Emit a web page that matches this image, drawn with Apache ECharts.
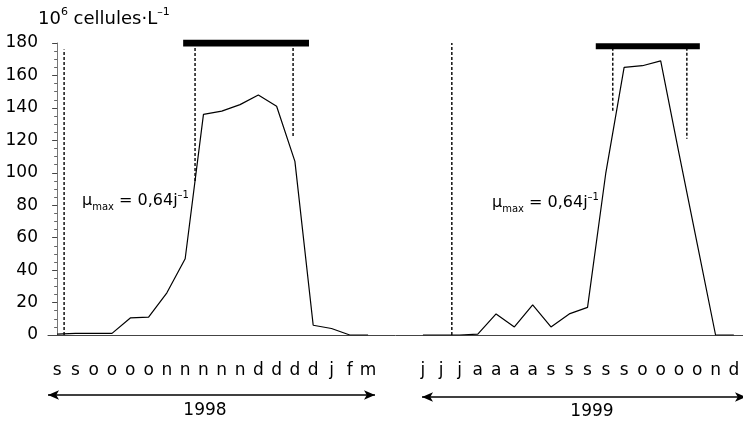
<!DOCTYPE html>
<html>
<head>
<meta charset="utf-8">
<script src="https://cdn.jsdelivr.net/npm/echarts@6/dist/echarts.min.js"></script>
<style>
  html, body { margin: 0; background: #fff; }
  #box { width: 743px; height: 424px; }
</style>
</head>
<body>
<div id="box"></div>
<script>
// sampling months (one letter per sample), 1998 campaign then 1999 campaign
const months1998 = ['s', 's', 'o', 'o', 'o', 'o', 'n', 'n', 'n', 'n', 'n', 'd', 'd', 'd', 'd', 'j', 'f', 'm'];
const months1999 = ['j', 'j', 'j', 'a', 'a', 'a', 'a', 's', 's', 's', 's', 's', 'o', 'o', 'o', 'o', 'n', 'd'];
const gapSlots = ['', ''];

// 10^6 cells per litre
const cells1998 = [0.5, 1, 1, 1, 10.5, 11, 26, 47, 136, 138, 142, 148, 141, 107, 6, 4, 0, 0];
const cells1999 = [0, 0, 0, 0.5, 13, 5, 18.5, 5, 13, 17, 100, 165, 166, 169, 112, 56, 0, 0];

const yMin = 0, yMax = 180, yStep = 20;

// annotation guides, in sample-index units on the shared axis
const growthStart = [[0.38, 0], [0.38, 176]];          // dotted line, 1998
const growthStart2 = [[21.58, 0], [21.58, 180]];       // dotted line, 1999
const bloomGuides1998 = [[[7.54, 180], [7.54, 94]], [[12.9, 180], [12.9, 122]]];
const bloomGuides1999 = [[[30.38, 177], [30.38, 137]], [[34.43, 177], [34.43, 121]]];
const bloomBar1998 = [[6.89, 180], [13.77, 180]];
const bloomBar1999 = [[29.45, 178], [35.14, 178]];

const FONT = 'DejaVu Sans';
const categories = months1998.concat(gapSlots, months1999);
const blank = n => new Array(n).fill('-');

const chart = echarts.init(document.getElementById('box'));

function guide(data, dashed, width) {
  return {
    type: 'line', xAxisIndex: 1, data: data, symbol: 'none', silent: true,
    lineStyle: { color: '#000', width: width || 1.4, type: dashed ? [3, 2] : 'solid', cap: 'butt' },
    z: 1
  };
}

// "μmax = 0,64j-1" label
const muRich = {
  m: { fontSize: 16, fontFamily: FONT, fill: '#000', lineHeight: 22, verticalAlign: 'middle' },
  sub: { fontSize: 10, fontFamily: FONT, fill: '#000', lineHeight: 10, verticalAlign: 'bottom' },
  b: { fontSize: 16, fontFamily: FONT, fill: '#000', lineHeight: 22, verticalAlign: 'middle' },
  s: { fontSize: 10, fontFamily: FONT, fill: '#000', lineHeight: 10, verticalAlign: 'top' }
};

const option = {
  animation: false,
  backgroundColor: '#fff',
  textStyle: { fontFamily: FONT },
  grid: { left: 48, right: 0, top: 43, bottom: 89, containLabel: false },
  xAxis: [
    {
      type: 'category',
      data: categories,
      boundaryGap: true,
      axisLine: { lineStyle: { color: '#444', width: 1 } },
      axisTick: { interval: 0, length: 5, lineStyle: { color: '#444' } },
      axisLabel: { interval: 0, color: '#000', fontSize: 17, fontFamily: FONT, margin: 27 }
    },
    {
      type: 'value', min: -0.5, max: 37.5, show: false
    }
  ],
  yAxis: {
    type: 'value',
    min: yMin, max: yMax, interval: yStep,
    splitLine: { show: false },
    axisLine: { show: true, lineStyle: { color: '#777', width: 1 } },
    axisTick: { length: 5, lineStyle: { color: '#444' } },
    minorTick: { show: true, splitNumber: 4, length: 3, lineStyle: { color: '#666' } },
    axisLabel: { color: '#000', fontSize: 17, fontFamily: FONT, margin: 10 }
  },
  series: [
    {
      name: '1998', type: 'line', data: cells1998.concat(blank(20)),
      symbol: 'none', lineStyle: { color: '#000', width: 1.2 }, z: 3,
      markLine: {
        silent: true, symbol: ['arrow', 'arrow'], symbolSize: [7, 11],
        lineStyle: { color: '#000', width: 1.5, type: 'solid' },
        label: { show: false },
        data: [
          [{ x: 48, y: 395 }, { x: 375, y: 395 }],
          [{ x: 422, y: 397 }, { x: 746, y: 397 }]
        ]
      }
    },
    {
      name: '1999', type: 'line', data: blank(20).concat(cells1999),
      symbol: 'none', lineStyle: { color: '#000', width: 1.2 }, z: 3
    },
    guide(growthStart, true),
    guide(growthStart2, true),
    guide(bloomGuides1998[0], true),
    guide(bloomGuides1998[1], true),
    guide(bloomGuides1999[0], true),
    guide(bloomGuides1999[1], true),
    guide(bloomBar1998, false, 7),
    guide(bloomBar1999, false, 6)
  ],
  graphic: [
    {
      type: 'text', left: 38, top: 7,
      style: {
        text: '{b|10}{s|6}{b| cellules·L}{s|–1}',
        rich: {
          b: { fontSize: 18, fontFamily: FONT, fill: '#000', lineHeight: 21, verticalAlign: 'bottom' },
          s: { fontSize: 11, fontFamily: FONT, fill: '#000', lineHeight: 12, verticalAlign: 'top' }
        }
      }
    },
    {
      type: 'text', left: 82, top: 190,
      style: { text: '{m|μ}{sub|max}{b| = 0,64j}{s|–1}', rich: muRich }
    },
    {
      type: 'text', left: 492, top: 192,
      style: { text: '{m|μ}{sub|max}{b| = 0,64j}{s|–1}', rich: muRich }
    },
    {
      type: 'text', x: 205, y: 402,
      style: { text: '1998', fontSize: 17, fontFamily: FONT, fill: '#000', align: 'center' }
    },
    {
      type: 'text', x: 592, y: 403,
      style: { text: '1999', fontSize: 17, fontFamily: FONT, fill: '#000', align: 'center' }
    }
  ]
};

chart.setOption(option);
</script>
</body>
</html>
